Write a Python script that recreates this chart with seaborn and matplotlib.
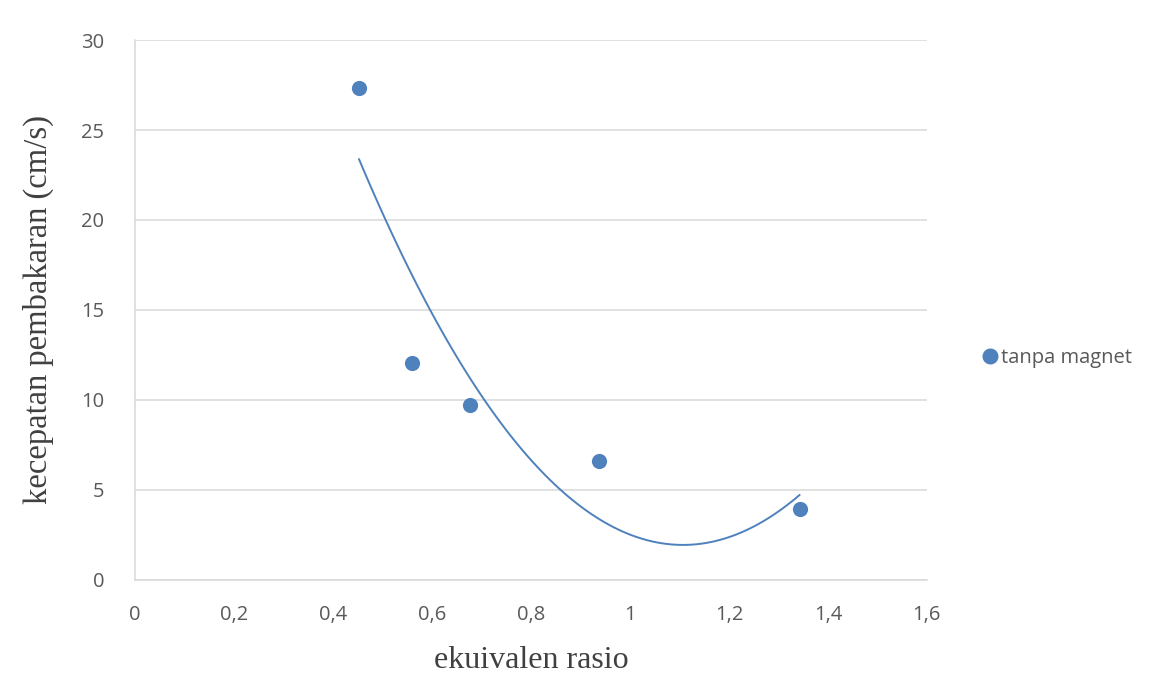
import matplotlib
matplotlib.use("Agg")
import matplotlib.pyplot as plt
import seaborn as sns
import pandas as pd
from matplotlib.lines import Line2D

# Data
ekuivalen_rasio = [0.4525, 0.5596, 0.677, 0.937, 1.343]
kecepatan = [27.33, 12.06, 9.72, 6.61, 3.94]
series_name = "tanpa magnet"
x_ticks = [0, 0.2, 0.4, 0.6, 0.8, 1.0, 1.2, 1.4, 1.6]
x_tick_labels = ["0", "0,2", "0,4", "0,6", "0,8", "1", "1,2", "1,4", "1,6"]
y_ticks = [0, 5, 10, 15, 20, 25, 30]
y_tick_labels = ["0", "5", "10", "15", "20", "25", "30"]

df = pd.DataFrame({"x": ekuivalen_rasio, "y": kecepatan})

sns.set_theme(style="white")
plt.rcParams["font.family"] = ["Open Sans", "DejaVu Sans"]

color = "#4F81BD"
tick_color = "#595959"
grid_color = "#D9D9D9"

fig = plt.figure(figsize=(11.6, 6.97), dpi=100)
ax = fig.add_axes([0.1164, 0.1679, 0.799 - 0.1164, 0.9426 - 0.1679])

# polynomial (order 2) trendline
sns.regplot(data=df, x="x", y="y", order=2, ci=None, ax=ax, scatter=False,
            line_kws=dict(color=color, lw=1.4), truncate=True)
sns.scatterplot(data=df, x="x", y="y", ax=ax, color=color, s=120,
                edgecolor=color, linewidth=0, zorder=3)

ax.set_xlim(0, 1.6)
ax.set_ylim(0, 30)
ax.set_xticks(x_ticks)
ax.set_xticklabels(x_tick_labels)
ax.set_yticks(y_ticks)
ax.set_yticklabels(y_tick_labels)
ax.tick_params(axis="both", colors=tick_color, labelsize=14.5, length=0)
ax.tick_params(axis="x", pad=18)
ax.tick_params(axis="y", pad=22)
for lbl in ax.get_xticklabels() + ax.get_yticklabels():
    lbl.set_color(tick_color)

ax.yaxis.grid(True, color=grid_color, lw=1.1)
ax.xaxis.grid(False)
ax.set_axisbelow(True)
for s in ["top", "right"]:
    ax.spines[s].set_visible(False)
for s in ["left", "bottom"]:
    ax.spines[s].set_color(grid_color)
    ax.spines[s].set_linewidth(1.1)

ax.set_xlabel("ekuivalen rasio", family=["Liberation Serif"], fontsize=23,
              color="#404040", labelpad=15)
ax.set_ylabel("kecepatan pembakaran (cm/s)", family=["Liberation Serif"],
              fontsize=23.5, color="#404040", labelpad=20)

handle = Line2D([], [], marker="o", linestyle="none", markersize=10.5,
                markerfacecolor=color, markeredgecolor=color)
fig.legend([handle], [series_name], loc="center left",
           bbox_to_anchor=(0.829, 0.487), frameon=False, fontsize=14.5,
           handletextpad=0.05, labelcolor=tick_color, handlelength=1.0)

fig.savefig("out.png", dpi=100)
